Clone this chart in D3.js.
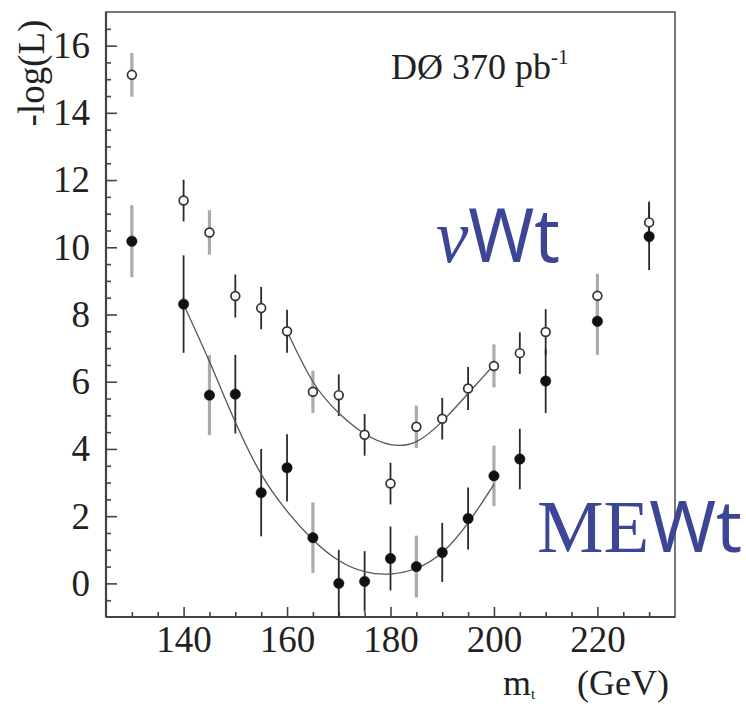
<!DOCTYPE html>
<html>
<head>
<meta charset="utf-8">
<script src="https://cdn.jsdelivr.net/npm/d3@7"></script>
<style>
  html, body { margin: 0; padding: 0; background: #ffffff; }
  svg { display: block; }
  .serif { font-family: "Liberation Serif", "DejaVu Serif", "Noto Serif", "Nimbus Roman", "FreeSerif", Times, serif; }
</style>
</head>
<body>
<div id="chart"></div>
<script>
// ---- data ----
const masses = [130, 140, 145, 150, 155, 160, 165, 170, 175, 180, 185, 190, 195, 200, 205, 210, 220, 230];
const nuWtValues = [15.13, 11.39, 10.44, 8.55, 8.19, 7.5, 5.7, 5.6, 4.42, 2.97, 4.66, 4.9, 5.8, 6.47, 6.85, 7.48, 8.56, 10.74];
const nuWtErrors = [0.65, 0.62, 0.66, 0.64, 0.63, 0.64, 0.63, 0.62, 0.62, 0.62, 0.63, 0.62, 0.64, 0.64, 0.62, 0.68, 0.65, 0.62];
const meWtValues = [10.18, 8.31, 5.6, 5.63, 2.7, 3.44, 1.36, 0.0, 0.06, 0.74, 0.5, 0.92, 1.93, 3.2, 3.7, 6.02, 7.8, 10.32];
const meWtErrors = [1.07, 1.45, 1.19, 1.17, 1.3, 1.0, 1.05, 1.0, 0.9, 0.95, 0.92, 0.88, 0.92, 0.9, 0.9, 0.95, 1.0, 1.0];
const greyBarMasses = [130, 145, 165, 185, 200, 220];

const nuWtFitMasses = [160, 165, 170, 175, 180, 185, 190, 195, 200];
const nuWtFitValues = [7.5, 6.0, 5.07, 4.45, 4.13, 4.22, 4.82, 5.65, 6.5];
const meWtFitMasses = [140, 145, 150, 155, 160, 165, 170, 175, 180, 185, 190, 195, 200];
const meWtFitValues = [8.3, 6.6, 4.8, 3.25, 2.15, 1.3, 0.68, 0.35, 0.28, 0.45, 0.92, 1.8, 2.95];

const xMajorTicks = [140, 160, 180, 200, 220];
const yMajorTicks = [0, 2, 4, 6, 8, 10, 12, 14, 16];
const xDomain = [125, 235];
const yDomain = [-1, 17];

// ---- layout ----
const W = 746, H = 704;
const mLeft = 106, mRight = 675, mTop = 12, mBottom = 617;
const sans = '"Noto Sans", "Open Sans", sans-serif';
const blue = "#3c4694";
const axisColor = "#444";

const svg = d3.select("#chart").append("svg").attr("width", W).attr("height", H);

const x = d3.scaleLinear().domain(xDomain).range([mLeft, mRight]);
const y = d3.scaleLinear().domain(yDomain).range([mBottom, mTop]);

// minor ticks
const xMinor = d3.range(xDomain[0] + 5, xDomain[1], 5).filter(v => !xMajorTicks.includes(v));
const yMinor = d3.range(yDomain[0] + 0.5, yDomain[1], 0.5).filter(v => !yMajorTicks.includes(v));

const gxMinor = svg.append("g").attr("transform", `translate(0,${mBottom})`)
  .call(d3.axisBottom(x).tickValues(xMinor).tickSize(-5).tickFormat(""));
const gyMinor = svg.append("g").attr("transform", `translate(${mLeft},0)`)
  .call(d3.axisLeft(y).tickValues(yMinor).tickSize(-5).tickFormat(""));

const gx = svg.append("g").attr("transform", `translate(0,${mBottom})`)
  .call(d3.axisBottom(x).tickValues(xMajorTicks).tickSize(-10).tickPadding(9).tickFormat(d3.format("d")));
const gy = svg.append("g").attr("transform", `translate(${mLeft},0)`)
  .call(d3.axisLeft(y).tickValues(yMajorTicks).tickSize(-11).tickPadding(16).tickFormat(d3.format("d")));

[gxMinor, gyMinor, gx, gy].forEach(g => {
  g.attr("font-family", null).attr("font-size", null);
  g.select(".domain").remove();
  g.selectAll(".tick line").attr("stroke", axisColor).attr("stroke-width", 1.6);
  g.selectAll(".tick text").attr("class", "serif").attr("fill", "#222").style("font-size", "37px");
});

// frame
svg.append("rect").attr("x", mLeft).attr("y", mTop).attr("width", mRight - mLeft).attr("height", mBottom - mTop)
  .attr("fill", "none").attr("stroke", "#555").attr("stroke-width", 1.6);
svg.append("line").attr("x1", mLeft).attr("x2", mLeft).attr("y1", mTop).attr("y2", mBottom)
  .attr("stroke", axisColor).attr("stroke-width", 2.2);
svg.append("line").attr("x1", mLeft).attr("x2", mRight).attr("y1", mBottom).attr("y2", mBottom)
  .attr("stroke", axisColor).attr("stroke-width", 2.2);

const plot = svg.append("g");

// error bars
function bars(values, errors) {
  masses.forEach((m, i) => {
    const grey = greyBarMasses.includes(m);
    plot.append("line")
      .attr("x1", x(m)).attr("x2", x(m))
      .attr("y1", y(Math.max(values[i] - errors[i], yDomain[0]))).attr("y2", y(values[i] + errors[i]))
      .attr("stroke", grey ? "#ababab" : "#2a2a2a")
      .attr("stroke-width", grey ? 3.2 : 1.8);
  });
}
bars(meWtValues, meWtErrors);
bars(nuWtValues, nuWtErrors);

// fit curves
const line = d3.line().x(d => x(d[0])).y(d => y(d[1])).curve(d3.curveNatural);
plot.append("path").datum(d3.zip(nuWtFitMasses, nuWtFitValues)).attr("d", line)
  .attr("fill", "none").attr("stroke", "#555").attr("stroke-width", 1.3);
plot.append("path").datum(d3.zip(meWtFitMasses, meWtFitValues)).attr("d", line)
  .attr("fill", "none").attr("stroke", "#555").attr("stroke-width", 1.3);

// points
plot.selectAll("circle.me").data(d3.zip(masses, meWtValues)).join("circle")
  .attr("class", "me").attr("cx", d => x(d[0])).attr("cy", d => y(d[1])).attr("r", 5.2)
  .attr("fill", "#111").attr("stroke", "#111").attr("stroke-width", 0.5);
plot.selectAll("circle.nu").data(d3.zip(masses, nuWtValues)).join("circle")
  .attr("class", "nu").attr("cx", d => x(d[0])).attr("cy", d => y(d[1])).attr("r", 4.4)
  .attr("fill", "#fff").attr("stroke", "#333").attr("stroke-width", 1.7);

// y axis title
svg.append("text").attr("class", "serif").attr("transform", "translate(44,73) rotate(-90)")
  .attr("text-anchor", "middle").style("font-size", "37px").attr("fill", "#222")
  .text("-log(L)");

// x axis title
const xt = svg.append("text").attr("class", "serif").attr("x", 503).attr("y", 695).attr("fill", "#222");
xt.append("tspan").style("font-size", "36px").text("m");
xt.append("tspan").style("font-size", "15px").attr("dy", 4).text("t");
xt.append("tspan").style("font-size", "36px").attr("x", 577).attr("dy", -4).text("(GeV)");

// experiment label
const dl = svg.append("text").attr("class", "serif").attr("x", 391).attr("y", 79).attr("fill", "#222");
dl.append("tspan").style("font-size", "36px").text("DØ 370 pb");
dl.append("tspan").style("font-size", "21px").attr("dy", -15).text("-1");

// method labels
const nu = svg.append("text").attr("x", 436).attr("y", 262).attr("fill", blue)
  .attr("textLength", 124).attr("lengthAdjust", "spacingAndGlyphs");
nu.append("tspan").attr("class", "serif").style("font-style", "italic").style("font-size", "76px").text("ν");
nu.append("tspan").style("font-family", sans).style("font-size", "74px").text("Wt");

const me = svg.append("text").attr("x", 537).attr("y", 552).attr("fill", blue)
  .attr("textLength", 205).attr("lengthAdjust", "spacingAndGlyphs");
me.append("tspan").attr("class", "serif").style("font-size", "75px").text("ME");
me.append("tspan").style("font-family", sans).style("font-size", "72px").text("Wt");
</script>
</body>
</html>
